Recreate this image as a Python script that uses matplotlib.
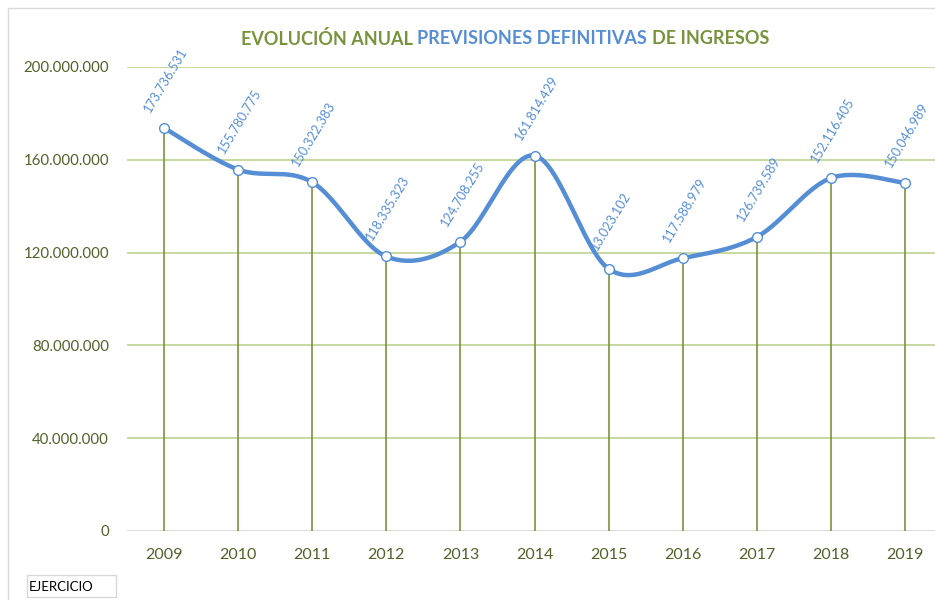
import numpy as np
import matplotlib.pyplot as plt
from matplotlib.lines import Line2D
from matplotlib.patches import Rectangle
from matplotlib.ticker import FuncFormatter

# Datos
years = ['2009', '2010', '2011', '2012', '2013', '2014', '2015', '2016', '2017', '2018', '2019']
values = [173736531, 155780775, 150322383, 118335323, 124708255, 161814429,
          113023102, 117588979, 126739589, 152116405, 150046989]
labels = ['173.736.531', '155.780.775', '150.322.383', '118.335.323', '124.708.255', '161.814.429',
          '13.023.102', '117.588.979', '126.739.589', '152.116.405', '150.046.989']
yticks = [0, 40000000, 80000000, 120000000, 160000000, 200000000]

blue = '#558ed5'
olive = '#77933c'
dark_olive = '#4f6228'
grid_green = '#c3d69b'

plt.rcParams['font.family'] = ['Lato', 'DejaVu Sans']

fig = plt.figure(figsize=(9.35, 6), dpi=100)
ax = fig.add_axes([127 / 935, 69 / 600, 815 / 935, 464 / 600])

x = np.arange(len(values))
y = np.array(values, dtype=float)

# curva suavizada (bezier tipo excel)
px = np.concatenate([[x[0]], x, [x[-1]]])
py = np.concatenate([[y[0]], y, [y[-1]]])
cx, cy = [], []
t = np.linspace(0, 1, 30)
for i in range(1, len(px) - 2):
    p0 = np.array([px[i], py[i]])
    p3 = np.array([px[i + 1], py[i + 1]])
    p1 = p0 + (np.array([px[i + 1], py[i + 1]]) - np.array([px[i - 1], py[i - 1]])) / 6
    p2 = p3 - (np.array([px[i + 2], py[i + 2]]) - np.array([px[i], py[i]])) / 6
    b = ((1 - t) ** 3)[:, None] * p0 + (3 * (1 - t) ** 2 * t)[:, None] * p1 \
        + (3 * (1 - t) * t ** 2)[:, None] * p2 + (t ** 3)[:, None] * p3
    cx.extend(b[:, 0])
    cy.extend(b[:, 1])

for v in yticks[1:]:
    ax.axhline(v, color=grid_green, lw=1.3, zorder=1)
ax.axhline(0, color='#d9d9d9', lw=1.3, zorder=1)

ax.vlines(x, 0, y, color=olive, lw=1.2, zorder=2)
ax.plot(cx, cy, color=blue, lw=3.2, solid_capstyle='round', zorder=3)
ax.plot(x, y, 'o', ms=7, mfc='white', mec=blue, mew=1.0, zorder=4)

for xi, yi, lab in zip(x, y, labels):
    ax.annotate(lab, (xi, yi), xytext=(1, 34), textcoords='offset points',
                rotation=59, ha='center', va='center', color=blue, fontsize=9.2, zorder=5)

ax.set_xlim(-0.5, 10.5)
ax.set_ylim(0, 200000000)
ax.set_xticks(x)
ax.set_xticklabels(years)
ax.set_yticks(yticks)
ax.yaxis.set_major_formatter(FuncFormatter(lambda v, p: f'{int(v):,}'.replace(',', '.')))
ax.tick_params(length=0, colors=dark_olive)
ax.tick_params(axis='y', pad=13, labelsize=10.8)
ax.tick_params(axis='x', pad=12, labelsize=11.5)
for s in ax.spines.values():
    s.set_visible(False)
ax.patch.set_alpha(0)

# borde del grafico
fig.add_artist(Line2D([8 / 935, 1], [1 - 8 / 600, 1 - 8 / 600], color='#d9d9d9', lw=1))
fig.add_artist(Line2D([8 / 935, 8 / 935], [0, 1 - 8 / 600], color='#d9d9d9', lw=1))

# titulo en dos colores
parts = [('EVOLUCIÓN ANUAL ', olive), ('PREVISIONES DEFINITIVAS ', blue), ('DE INGRESOS', olive)]
fig.canvas.draw()
r = fig.canvas.get_renderer()
objs = []
for s, c in parts:
    objs.append(fig.text(0, 1 - 39 / 600, s, color=c, fontsize=13, fontweight='bold',
                         ha='left', va='center'))
widths = [o.get_window_extent(r).width for o in objs]
xpos = 505 - sum(widths) / 2
for o, w in zip(objs, widths):
    o.set_x(xpos / 935)
    xpos += w

# boton de campo
fig.add_artist(Rectangle((27 / 935, 1 - 597 / 600), 89 / 935, 22 / 600, transform=fig.transFigure,
                         fc='white', ec='#d9d9d9', lw=1))
fig.text(29 / 935, 1 - 587 / 600, 'EJERCICIO', fontsize=9.5, color='black', va='center', ha='left')

fig.savefig('out.png', dpi=100)
